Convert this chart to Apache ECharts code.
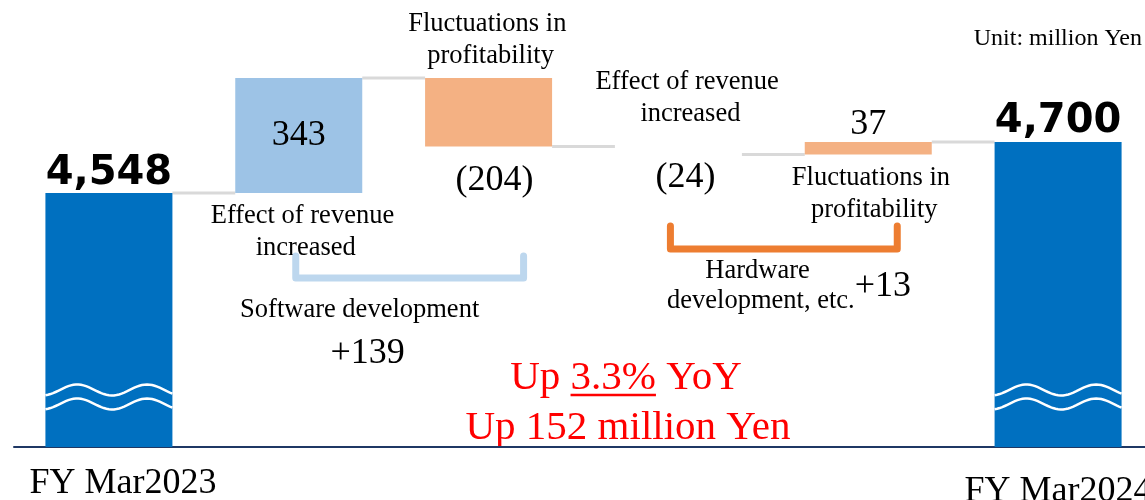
<!DOCTYPE html>
<html>
<head>
<meta charset="utf-8">
<style>
  html, body { margin: 0; padding: 0; background: #fff; }
  #chart { width: 1145px; height: 500px; }
</style>
<script src="https://cdn.jsdelivr.net/npm/echarts@6/dist/echarts.min.js"></script>
</head>
<body>
<div id="chart"></div>
<script>
// data
const categories = ['FY Mar2023', 'Effect of revenue increased', 'Fluctuations in profitability',
  'Effect of revenue increased', 'Fluctuations in profitability', 'FY Mar2024'];
const changes = [4548, 343, -204, -24, 37, 4700];
const isTotal = [true, false, false, false, false, true];
const groupNames = ['Software development', 'Hardware development, etc.'];
const groupMembers = [[1, 2], [3, 4]];
const unitText = 'Unit: million Yen';

const SERIF = '"Liberation Serif", "Times New Roman", serif';
const SANS = '"DejaVu Sans", Arial, sans-serif';
const Y_MIN = 3790;
const Y_MAX = 5100;
const BAR_W = 127;
const NAME_FONT = '26.5px ' + SERIF;

const barColors = ['#0070C0', '#9DC3E6', '#F4B183', 'rgba(0,0,0,0)', '#F4B183', '#0070C0'];

// running totals for the waterfall
const lows = [];
const highs = [];
const levels = [];
let run = 0;
changes.forEach((c, i) => {
  if (isTotal[i]) {
    lows.push(0);
    highs.push(c);
    run = c;
  } else {
    const next = run + c;
    lows.push(Math.min(run, next));
    highs.push(Math.max(run, next));
    run = next;
  }
  levels.push(run);
});

const fmtNum = (n) => String(n).replace(/\B(?=(\d{3})+(?!\d))/g, ',');
const fmtChange = (i) => {
  const v = changes[i];
  if (isTotal[i]) return fmtNum(v);
  return v < 0 ? '(' + Math.abs(v) + ')' : String(v);
};
const signed = (v) => (v >= 0 ? '+' : '-') + Math.abs(v);

const bigBold = { fontFamily: SANS, fontWeight: 'bold', fontSize: 40, color: '#000' };
const serifNum = { fontFamily: SERIF, fontSize: 36, color: '#000' };
const valueLabel = [
  Object.assign({ position: 'top', distance: -1 }, bigBold),
  Object.assign({ position: 'inside' }, serifNum),
  Object.assign({ position: 'bottom', distance: 16, offset: [6, 0] }, serifNum),
  Object.assign({ position: 'bottom', distance: 5, offset: [7, 0] }, serifNum),
  Object.assign({ position: 'top', distance: -1 }, serifNum),
  Object.assign({ position: 'top', distance: 0 }, bigBold)
];

const nameStyle = {
  1: { side: 'below', gap: 7, dx: 7 },
  2: { side: 'above', gap: 6, dx: 2 },
  3: { side: 'above', gap: 16, dx: 12 },
  4: { side: 'below', gap: 8, dx: 6 }
};

const bracketStyle = [
  { color: '#BDD7EE', dx1: -3, dx2: 35, top: 256, bottom: 278, nameDx: -50, nameY: 295, sumDx: -42, sumY: 336 },
  { color: '#ED7D31', dx1: -8, dx2: 29, top: 226, bottom: 249, nameDx: -23, nameY: 256, sumDx: 99, sumY: 269 }
];

const chart = echarts.init(document.getElementById('chart'));

const groupSums = groupMembers.map((m) => m.reduce((s, i) => s + changes[i], 0));
const diff = changes[5] - changes[0];
const pct = (diff / changes[0] * 100).toFixed(1);

const option = {
  animation: false,
  grid: { left: 14, width: 1139, top: 8, bottom: 53, outerBoundsMode: 'none', containLabel: false },
  xAxis: {
    type: 'category',
    data: categories,
    axisLine: { lineStyle: { color: '#1F3864', width: 2 } },
    axisTick: { show: false },
    axisLabel: {
      interval: 0,
      margin: 19,
      formatter: (v, i) => {
        if (!isTotal[i]) return '';
        return i === 0 ? '{a|' + v + '}' : '{b|' + v + '}';
      },
      rich: {
        a: { fontFamily: SERIF, fontSize: 36, color: '#000', padding: [0, 0, 0, 28] },
        b: { fontFamily: SERIF, fontSize: 36, color: '#000', padding: [8, 0, 0, 0] }
      }
    }
  },
  yAxis: {
    type: 'value',
    min: Y_MIN,
    max: Y_MAX,
    show: false,
    splitLine: { show: false }
  },
  series: [
    {
      type: 'bar',
      stack: 'wf',
      barWidth: BAR_W,
      clip: true,
      silent: true,
      itemStyle: { color: 'rgba(0,0,0,0)' },
      data: lows
    },
    {
      type: 'bar',
      stack: 'wf',
      barWidth: BAR_W,
      clip: true,
      data: changes.map((c, i) => ({
        value: highs[i] - lows[i],
        itemStyle: { color: barColors[i] },
        label: Object.assign({ show: true, formatter: () => fmtChange(i) }, valueLabel[i])
      }))
    },
    {
      // connectors between bars
      type: 'custom',
      silent: true,
      encode: { x: 0, y: 1 },
      data: levels.slice(0, -1).map((l, i) => [i, l]),
      renderItem: (params, api) => {
        const i = api.value(0);
        const a = api.coord([i, api.value(1)]);
        const b = api.coord([i + 1, api.value(1)]);
        return {
          type: 'line',
          shape: { x1: a[0] + BAR_W / 2, y1: a[1], x2: b[0] - BAR_W / 2, y2: b[1] },
          style: { stroke: '#D9D9D9', lineWidth: 3 }
        };
      }
    },
    {
      // axis break waves on the total bars
      type: 'custom',
      silent: true,
      encode: { x: 0, y: 1 },
      z: 5,
      data: isTotal.map((t, i) => (t ? [i, Y_MIN] : null)).filter(Boolean),
      renderItem: (params, api) => {
        const c = api.coord([api.value(0), api.value(1)]);
        const x0 = c[0] - BAR_W / 2;
        const lines = [57, 43].map((off) => {
          const pts = [];
          for (let k = 0; k <= 50; k++) {
            const t = k / 50;
            pts.push([x0 + t * BAR_W, c[1] - off - 5.5 * Math.cos(2 * Math.PI * (t - 0.25) / 0.55)]);
          }
          return { type: 'polyline', shape: { points: pts }, style: { stroke: '#fff', lineWidth: 2.5, fill: null } };
        });
        return { type: 'group', children: lines };
      }
    },
    {
      // change names above / below the bars
      type: 'custom',
      silent: true,
      encode: { x: 0, y: [1, 2] },
      data: categories.map((c, i) => (isTotal[i] ? null : [i, lows[i], highs[i]])).filter(Boolean),
      renderItem: (params, api) => {
        const i = api.value(0);
        const st = nameStyle[i];
        const above = st.side === 'above';
        const c = api.coord([i, above ? api.value(2) : api.value(1)]);
        return {
          type: 'text',
          style: {
            text: categories[i],
            x: c[0] + st.dx,
            y: c[1] + (above ? -st.gap : st.gap),
            align: 'center',
            verticalAlign: above ? 'bottom' : 'top',
            width: 200,
            overflow: 'break',
            lineHeight: 32,
            font: NAME_FONT,
            fill: '#000'
          }
        };
      }
    },
    {
      // group brackets with subtotal
      type: 'custom',
      silent: true,
      encode: { x: [0, 1] },
      data: groupMembers.map((m, g) => [m[0], m[1], g]),
      renderItem: (params, api) => {
        const g = api.value(2);
        const st = bracketStyle[g];
        const x1 = api.coord([api.value(0), Y_MIN])[0] + st.dx1;
        const x2 = api.coord([api.value(1), Y_MIN])[0] + st.dx2;
        const mid = (x1 + x2) / 2;
        return {
          type: 'group',
          children: [
            {
              type: 'polyline',
              shape: { points: [[x1, st.top], [x1, st.bottom], [x2, st.bottom], [x2, st.top]] },
              style: { stroke: st.color, lineWidth: 7, fill: null, lineJoin: 'round', lineCap: 'round' }
            },
            {
              type: 'text',
              style: {
                text: groupNames[g], x: mid + st.nameDx, y: st.nameY, align: 'center', verticalAlign: 'top',
                width: g === 0 ? 330 : 200, overflow: 'break', lineHeight: 30,
                font: NAME_FONT, fill: '#000'
              }
            },
            {
              type: 'text',
              style: {
                text: signed(groupSums[g]), x: mid + st.sumDx, y: st.sumY, align: 'center', verticalAlign: 'top',
                font: '36px ' + SERIF, fill: '#000'
              }
            }
          ]
        };
      }
    }
  ]
};

chart.setOption(option);

// summary text
const RED_FONT = '41px ' + SERIF;
const ctx = document.createElement('canvas').getContext('2d');
ctx.font = RED_FONT;
const line1 = 'Up ' + pct + '% YoY';
const w1 = ctx.measureText(line1).width;
const wPre = ctx.measureText('Up ').width;
const wPct = ctx.measureText(pct + '%').width;
const cx1 = 626;
const u0 = cx1 - w1 / 2 + wPre;

chart.setOption({
  graphic: [
    {
      type: 'text',
      style: { text: unitText, x: 1142, y: 27, align: 'right', verticalAlign: 'top', font: '24px ' + SERIF, fill: '#000' }
    },
    {
      type: 'text',
      style: { text: line1, x: cx1, y: 358, align: 'center', verticalAlign: 'top', font: RED_FONT, fill: '#FF0000' }
    },
    {
      type: 'line',
      shape: { x1: u0, y1: 395, x2: u0 + wPct, y2: 395 },
      style: { stroke: '#FF0000', lineWidth: 2.5 }
    },
    {
      type: 'text',
      style: {
        text: 'Up ' + diff + ' million Yen', x: 628, y: 408, align: 'center', verticalAlign: 'top',
        font: RED_FONT, fill: '#FF0000'
      }
    }
  ]
});

window.addEventListener('resize', () => chart.resize());
</script>
</body>
</html>
